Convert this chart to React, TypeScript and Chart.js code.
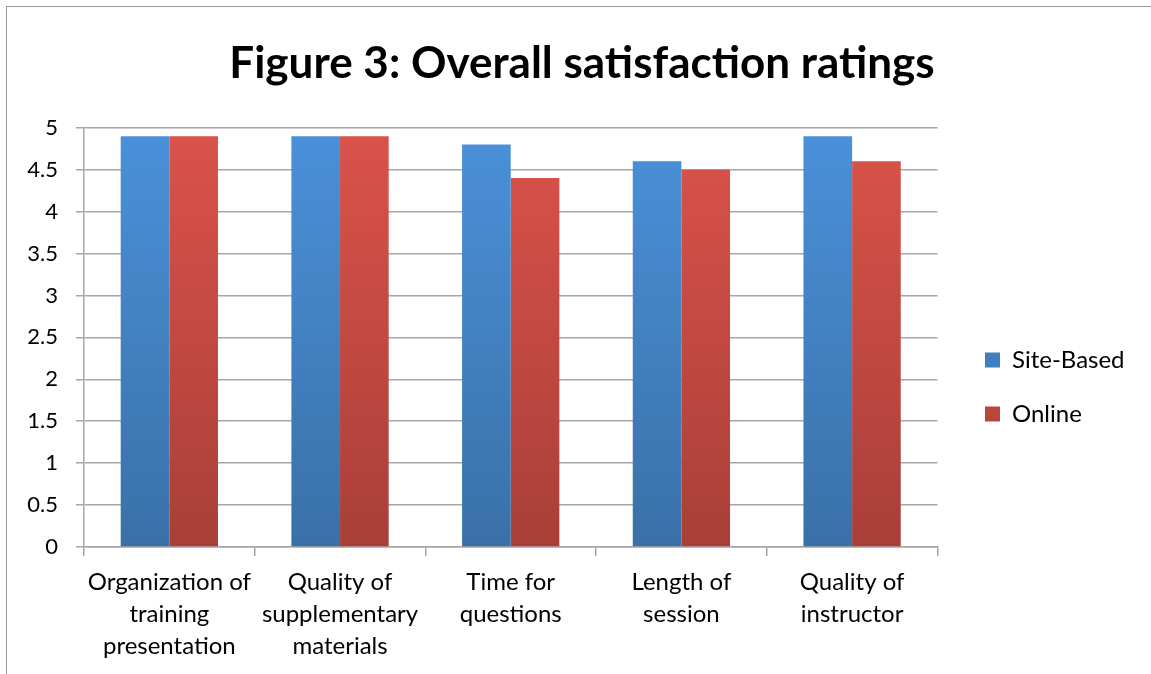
import React, { useEffect, useRef } from "react";
import { Chart, registerables } from "chart.js";

Chart.register(...registerables);

const categories: string[][] = [
  ["Organization of", "training", "presentation"],
  ["Quality of", "supplementary", "materials"],
  ["Time for", "questions"],
  ["Length of", "session"],
  ["Quality of", "instructor"],
];
const siteBased = [4.9, 4.9, 4.8, 4.6, 4.9];
const online = [4.9, 4.9, 4.4, 4.5, 4.6];
const titleText = "Figure 3: Overall satisfaction ratings";
const FONT = "Lato, 'Open Sans', sans-serif";

function grad(ctx: any, top: string, bottom: string) {
  const chart = ctx.chart;
  const area = chart.chartArea;
  if (!area) return top;
  const g = chart.ctx.createLinearGradient(0, area.top, 0, area.bottom);
  g.addColorStop(0, top);
  g.addColorStop(1, bottom);
  return g;
}

const LEGEND_PAD = 30;

const legendPlace = {
  id: "legendPlace",
  afterLayout(chart: any) {
    const lg = chart.legend;
    if (lg) {
      const w = lg.width;
      lg.left = 985 - LEGEND_PAD;
      lg.right = lg.left + w;
      lg.top += 50;
      lg.bottom += 50;
    }
    const t = chart.titleBlock;
    if (t) {
      const center = (t.left + t.right) / 2;
      const d = 582 - center;
      t.left += d;
      t.right += d;
    }
  },
};

export default function App() {
  const ref = useRef<HTMLCanvasElement | null>(null);
  useEffect(() => {
    if (!ref.current) return;
    const chart = new Chart(ref.current, {
      type: "bar",
      data: {
        labels: categories,
        datasets: [
          {
            label: "Site-Based",
            data: siteBased,
            backgroundColor: (c: any) => grad(c, "#4a91da", "#3a70a8"),
            borderWidth: 0,
          },
          {
            label: "Online",
            data: online,
            backgroundColor: (c: any) => grad(c, "#da534a", "#a93f38"),
            borderWidth: 0,
          },
        ],
      },
      plugins: [legendPlace],
      options: {
        animation: false,
        responsive: false,
        maintainAspectRatio: false,
        layout: { padding: { left: 8, right: 34, top: 0, bottom: 0 } },
        datasets: { bar: { categoryPercentage: 0.57, barPercentage: 1 } },
        plugins: {
          title: {
            display: true,
            text: titleText,
            color: "#000",
            font: { family: FONT, size: 44, weight: "bold", lineHeight: 1.2 },
            padding: { top: 37, bottom: 38 },
          },
          legend: {
            position: "right",
            align: "center",
            labels: {
              boxWidth: 15,
              boxHeight: 15,
              color: "#000",
              padding: LEGEND_PAD,
              font: { family: FONT, size: 24 },
            },
          },
          tooltip: { enabled: false },
        },
        scales: {
          x: {
            grid: {
              display: true,
              drawOnChartArea: false,
              drawTicks: true,
              tickLength: 9,
              color: "#a6a6a6",
              lineWidth: 1.5,
              offset: true,
            },
            border: { display: true, color: "#a6a6a6", width: 1.5 },
            ticks: {
              color: "#000",
              font: { family: FONT, size: 24, lineHeight: 1.33 },
              padding: 10,
              maxRotation: 0,
              autoSkip: false,
            },
            afterFit: (s: any) => {
              s.height = 674 - 547;
            },
          },
          y: {
            min: 0,
            max: 5,
            grid: {
              color: "#a6a6a6",
              lineWidth: 1.5,
              tickLength: 8,
            },
            border: { display: true, color: "#a6a6a6", width: 1.5 },
            ticks: {
              stepSize: 0.5,
              color: "#000",
              font: { family: FONT, size: 22 },
              padding: 18,
              callback: (v: any) => String(+v),
            },
            afterFit: (s: any) => {
              s.width = 84 - 8;
            },
          },
        },
      },
    });
    return () => chart.destroy();
  }, []);
  return (
    <div
      style={{
        position: "absolute",
        left: 0,
        top: 0,
        width: 1151,
        height: 674,
        background: "#fff",
        overflow: "hidden",
      }}
    >
      <div
        style={{
          position: "absolute",
          left: 6,
          top: 6,
          right: -2,
          bottom: -2,
          borderTop: "1.5px solid #9a9a9a",
          borderLeft: "1.5px solid #9a9a9a",
        }}
      />
      <canvas
        ref={ref}
        width={1151}
        height={674}
        style={{ position: "absolute", left: 0, top: 0, width: 1151, height: 674 }}
      />
    </div>
  );
}
